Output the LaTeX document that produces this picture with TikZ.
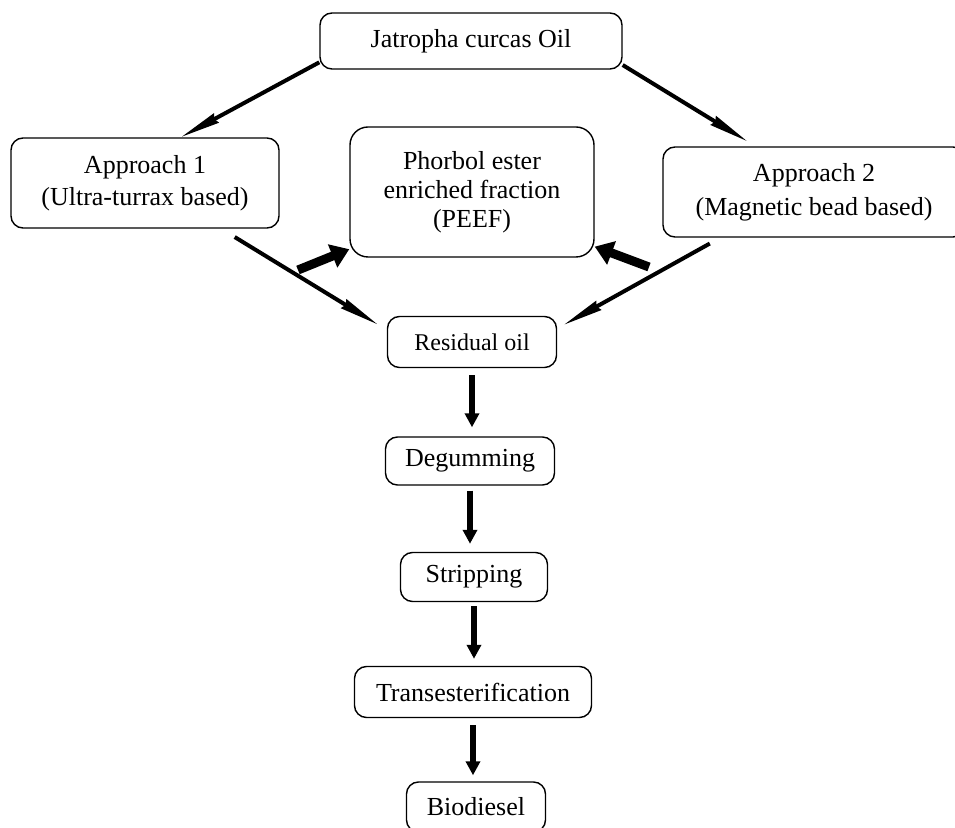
\documentclass[tikz,border=0pt]{standalone}
\usepackage{fontspec}
\setmainfont{Liberation Serif}
\usetikzlibrary{arrows.meta}

\begin{document}
\begin{tikzpicture}[x=0.5pt, y=-0.5pt,
    box/.style={draw, rounded corners=6pt, line width=0.7pt, align=center, inner sep=0pt, font=\fontsize{13}{16}\selectfont},
    thin/.style={line width=2pt, -{Stealth[length=20pt, width=5pt, inset=1pt]}},
    fat/.style={line width=4.5pt, -{Triangle[length=9pt, width=12pt]}},
    down/.style={line width=3pt, -{Triangle[length=7pt, width=7pt]}}]

    \useasboundingbox (0,0) rectangle (955,828);

    % Define boxes with coordinates
    \node[box, minimum width=151pt, minimum height=28pt] (oil) at (471,41) {Jatropha curcas Oil};
    \node[box, minimum width=134pt, minimum height=45pt] (app1) at (145,183) {Approach 1\\(Ultra-turrax based)};
    \node[box, minimum width=122pt, minimum height=65pt, rounded corners=9pt, font=\fontsize{13}{14.5}\selectfont] (peef) at (472,192) {Phorbol ester\\enriched fraction\\(PEEF)};
    \node[box, minimum width=151pt, minimum height=45pt, font=\fontsize{13}{17}\selectfont] (app2) at (814,192) {Approach 2\\(Magnetic bead based)};
    \node[box, minimum width=84.5pt, minimum height=25.5pt, font=\fontsize{12}{14}\selectfont] (res) at (472,342) {Residual oil};
    \node[box, minimum width=84.5pt, minimum height=24pt] (deg) at (470,461) {Degumming};
    \node[box, minimum width=73.5pt, minimum height=24.5pt] (strip) at (474,577) {Stripping};
    \node[box, minimum width=118.5pt, minimum height=25.5pt] (trans) at (473,692) {Transesterification};
    \node[box, minimum width=69.5pt, minimum height=25pt] (bio) at (476,807) {Biodiesel};
    \coordinate (cutL) at (298,270);
    \coordinate (cutR) at (649,267);

    % Draw the two approaches
    \draw[thin] (oil.188) -- (app1.52);
    \draw[thin, shorten >=4.5pt] (oil.351) -- (app2.142);
    \draw[thin, shorten <=8pt, shorten >=5pt] (app1.-31) -- (res.172);
    \draw[thin, shorten <=6pt, shorten >=3.5pt] (app2.206) -- (res.9);
    \draw[fat] (cutL) -- (peef.205);
    \draw[fat] (cutR) -- (peef.336);
    % Draw the processing chain
    \draw[down, shorten <=3.5pt, shorten >=4.5pt] (res.south) -- (res.south |- deg.north);
    \draw[down, shorten <=2.5pt, shorten >=4pt] (deg.south) -- (deg.south |- strip.north);
    \draw[down, shorten <=2pt, shorten >=3.5pt] (strip.south) -- (strip.south |- trans.north);
    \draw[down, shorten <=3.5pt, shorten >=3pt] (trans.south) -- (trans.south |- bio.north);

\end{tikzpicture}
\end{document}
